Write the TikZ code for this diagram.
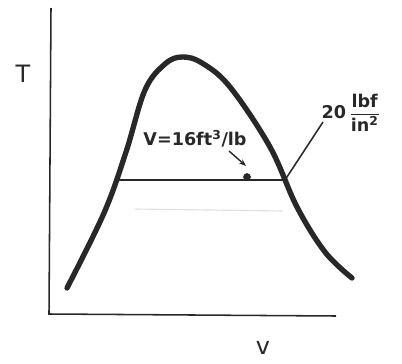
\documentclass[tikz,border=0pt]{standalone}
\usepackage{fontspec}
\setmainfont{DejaVu Sans}
\usepackage{tikz}
\usetikzlibrary{arrows.meta, positioning, calc}
\definecolor{ink}{RGB}{40, 40, 40}
\definecolor{faint}{RGB}{225, 225, 225}

\begin{document}
\begin{tikzpicture}[x=0.025cm, y=-0.025cm,
  axis/.style={line width=1.1pt, color=ink},
  dome/.style={line width=3.8pt, color=ink, line cap=round, line join=round},
  iso/.style={line width=1.1pt, color=ink},
  lbl/.style={font=\fontsize{12.5pt}{13pt}\selectfont\bfseries, text=ink, inner sep=1pt},
  arr/.style={-{Stealth[length=5pt]}, line width=1pt, color=ink}
]
\useasboundingbox (0,0) rectangle (402,363);
% Axes
\coordinate (origin) at (49,314);
\coordinate (ytop) at (51,8);
\coordinate (xend) at (336,316);
\draw[axis] (ytop) -- (origin) -- (xend);
\node[font=\fontsize{17pt}{18pt}\selectfont, text=ink] (tlabel) at (23,74) {T};
\node[font=\fontsize{17pt}{18pt}\selectfont, text=ink] (vlabel) at (263,348) {v};
% Saturation dome
\draw[dome] plot[smooth, tension=0.6] coordinates {
  (67,288) (104,213) (126,152) (145,90) (165,64) (182,57) (202,63)
  (230,87) (270,147) (297,207) (325,252) (352,278)};
% Faint scan line
\draw[faint, line width=0.8pt] (135,209) -- (283,211);
% Isobar and state point
\coordinate (liq) at (118,180);
\coordinate (vap) at (285,180);
\draw[iso] (liq) -- (vap);
\node[circle, fill=ink, inner sep=0pt, minimum size=5.5pt] (state) at (247,177) {};
% Labels
\node[lbl] (vol) at (195,139) {V=16ft\textsuperscript{3}/lb};
\coordinate (tip) at (246,166);
\draw[arr] ($(tip)+(-17,-15)$) coordinate (tail) -- (tip);
\node[lbl, align=center] (pres) at (351,113)
  {20\,$\displaystyle\frac{\hbox{\bfseries lbf}}{\hbox{\bfseries in\textsuperscript{2}}}$};
\coordinate (lead) at (323,122);
\draw[iso] (vap) -- (lead);
\end{tikzpicture}
\end{document}
